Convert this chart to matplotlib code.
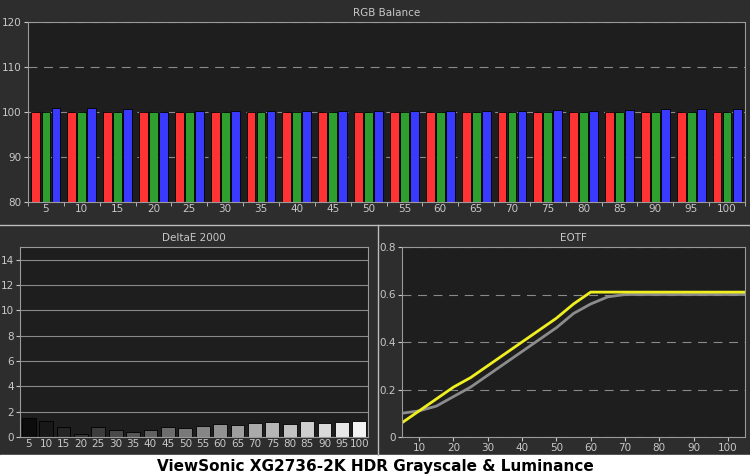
import matplotlib
matplotlib.use("Agg")
import matplotlib.pyplot as plt
import numpy as np

levels = [5,10,15,20,25,30,35,40,45,50,55,60,65,70,75,80,85,90,95,100]
red   = [99.9,100.1,100.1,100.1,100.1,99.9,99.9,100.1,100.1,100.1,100.1,100.1,100.1,100.1,100.1,100.1,100.1,99.9,99.9,99.9]
green = [99.9,99.9,99.9,100.0,99.9,100.0,100.0,99.9,99.9,99.9,99.9,99.9,99.9,99.9,99.9,99.9,99.9,99.9,100.1,100.1]
blue  = [100.8,100.8,100.6,100.1,100.3,100.3,100.3,100.3,100.3,100.3,100.3,100.3,100.3,100.3,100.5,100.3,100.5,100.7,100.7,100.7]
deltae = [1.5,1.3,0.8,0.25,0.8,0.55,0.4,0.55,0.8,0.7,0.9,1.05,0.95,1.1,1.2,1.05,1.3,1.1,1.2,1.3]
eotf_x = [5,10,15,20,25,30,35,40,45,50,55,60,65,70,75,80,85,90,95,100,105]
eotf_meas = [0.06,0.11,0.16,0.21,0.25,0.30,0.35,0.40,0.45,0.50,0.56,0.61,0.61,0.61,0.61,0.61,0.61,0.61,0.61,0.61,0.61]
eotf_tgt  = [0.10,0.11,0.13,0.17,0.21,0.26,0.31,0.36,0.41,0.46,0.52,0.56,0.59,0.60,0.60,0.60,0.60,0.60,0.60,0.60,0.60]

BG = "#2d2d2d"; AX = "#1e1e1e"; TXT = "#c8c8c8"; GRID = "#8a8a8a"
fig = plt.figure(figsize=(7.5, 4.76), dpi=100, facecolor=BG)

def style(ax, title, dashed=True):
    ax.set_facecolor(AX)
    for s in ax.spines.values():
        s.set_color("#9a9a9a")
    ax.tick_params(colors=TXT, labelsize=7.5, length=3, pad=1.5)
    ax.set_title(title, color=TXT, fontsize=7.5, pad=4)
    if dashed:
        ax.grid(axis="y", color=GRID, linestyle=(0, (8, 6)), linewidth=0.8)
    else:
        ax.grid(axis="y", color=GRID, linewidth=0.8)
    ax.set_axisbelow(True)

W, H = 750, 476
def rect(l, t, r, b):
    return [l/W, 1-b/H, (r-l)/W, (b-t)/H]

# RGB Balance
ax1 = fig.add_axes(rect(28, 22, 745, 202))
style(ax1, "RGB Balance")
x = np.arange(len(levels))
w = 0.28
ax1.bar(x-w, red, w*0.88, color="#ff3333", edgecolor="black", linewidth=0.6)
ax1.bar(x, green, w*0.88, color="#2e9e2e", edgecolor="black", linewidth=0.6)
ax1.bar(x+w, blue, w*0.88, color="#3a3aff", edgecolor="black", linewidth=0.6)
ax1.set_ylim(80, 120)
ax1.set_yticks([80, 90, 100, 110, 120])
ax1.set_xlim(-0.5, len(levels)-0.5)
ax1.set_xticks(x)
ax1.set_xticklabels([str(v) for v in levels])
ax1.set_xticks(np.arange(len(levels)+1)-0.5, minor=True)
ax1.tick_params(axis="x", which="major", length=0)
ax1.tick_params(axis="x", which="minor", colors=TXT, length=3)

# DeltaE
ax2 = fig.add_axes(rect(20, 247, 368, 437))
style(ax2, "DeltaE 2000", dashed=False)
shades = [plt.cm.gray(0.05 + 0.9*i/(len(levels)-1)) for i in range(len(levels))]
ax2.bar(x, deltae, 0.8, color=shades, edgecolor="black", linewidth=0.6)
ax2.set_ylim(0, 15)
ax2.set_yticks([0, 2, 4, 6, 8, 10, 12, 14])
ax2.set_xlim(-0.5, len(levels)-0.5)
ax2.set_xticks(x)
ax2.set_xticklabels([str(v) for v in levels])
ax2.tick_params(axis="x", labelsize=7.5, length=0)

# EOTF
ax3 = fig.add_axes(rect(402, 247, 745, 437))
style(ax3, "EOTF")
ax3.plot(eotf_x, eotf_tgt, color="#8c8c8c", linewidth=2)
ax3.plot(eotf_x, eotf_meas, color="#f0f020", linewidth=2)
ax3.set_xlim(5, 105)
ax3.set_ylim(0, 0.8)
ax3.set_yticks([0, 0.2, 0.4, 0.6, 0.8])
ax3.set_yticklabels(["0", "0.2", "0.4", "0.6", "0.8"])
ax3.set_xticks([10, 20, 30, 40, 50, 60, 70, 80, 90, 100])

# panel separators and caption
fig.add_artist(plt.Rectangle((0, 0), 1, 21/H, transform=fig.transFigure, color="white"))
fig.add_artist(plt.Line2D([0, 1], [1-225/H]*2, transform=fig.transFigure, color="#bbbbbb", lw=1))
fig.add_artist(plt.Line2D([378/W]*2, [21/H, 1-225/H], transform=fig.transFigure, color="#bbbbbb", lw=1))
fig.text(0.5, 10/H, "ViewSonic XG2736-2K HDR Grayscale & Luminance", ha="center", va="center",
         fontsize=11, fontweight="bold", color="black")

fig.savefig("out.png", dpi=100, facecolor=BG)
